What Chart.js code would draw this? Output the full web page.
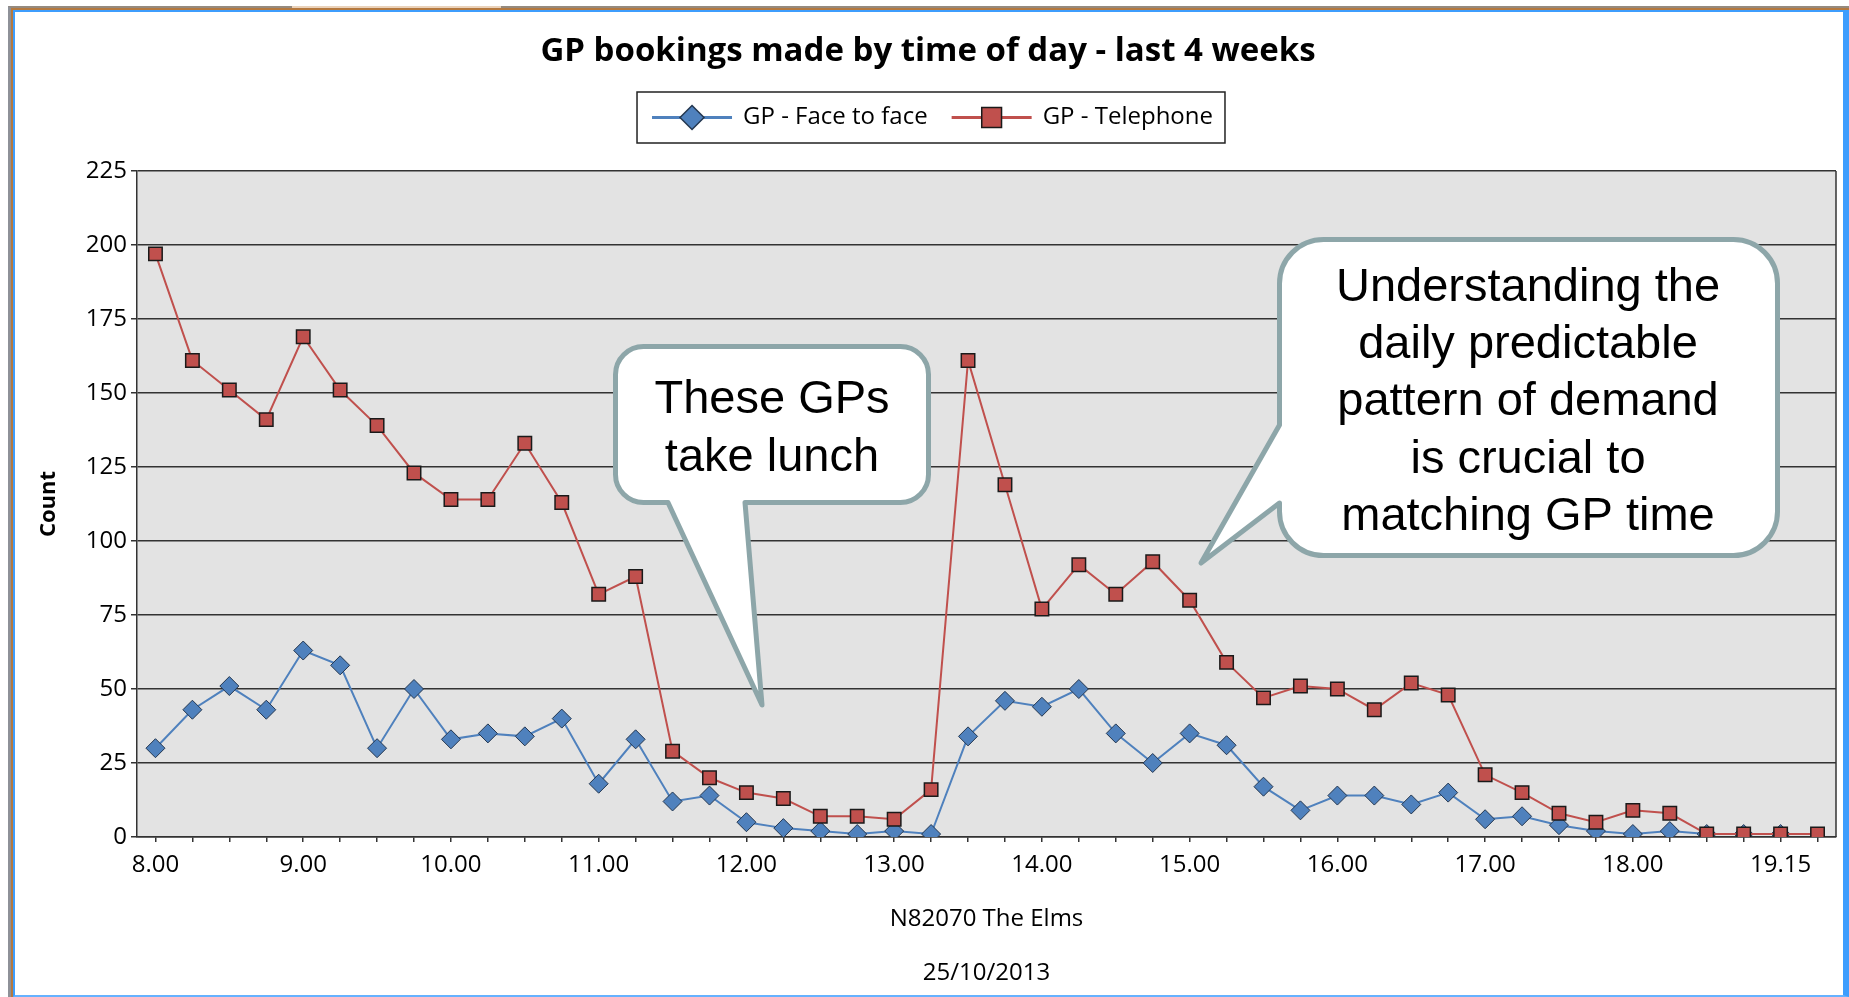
<!DOCTYPE html>
<html>
<head>
<meta charset="utf-8">
<title>GP bookings made by time of day</title>
<script src="https://cdn.jsdelivr.net/npm/chart.js@4.4.1/dist/chart.umd.min.js"></script>
<style>
  html, body { margin: 0; padding: 0; background: #fff; }
  #wrap { position: relative; width: 1849px; height: 997px; overflow: hidden; }
  #dash { position: absolute; left: 0; top: 0; }
  .frame { position: absolute; pointer-events: none; box-sizing: border-box; }
  #f1 { left: 8px; top: 6px; right: 0; bottom: 0; border-left: 3px solid #8e9198; border-top: 2px solid #958a7e; }
  #f2 { left: 11px; top: 8px; right: 0; bottom: 0; border-left: 2px solid #b5793f; border-top: 2px solid #b5793f; }
  #f3 { left: 13px; top: 10px; right: 0; bottom: 0; border: 2px solid #3d9dfd; border-right-width: 6px; border-bottom-color: #66b2ff; }
  #tab { left: 292px; top: 6px; width: 209px; height: 2px; background: #ead2ba; }
</style>
</head>
<body>
<div id="wrap">
  <canvas id="dash" width="1849" height="997"></canvas>
  <div class="frame" id="f1"></div>
  <div class="frame" id="f2"></div>
  <div class="frame" id="f3"></div>
  <div class="frame" id="tab"></div>
</div>
<script>
// time slots (one quarter is missing in the source between 18.45 and 19.15)
const times = ['8.00', '8.15', '8.30', '8.45', '9.00', '9.15', '9.30', '9.45',
  '10.00', '10.15', '10.30', '10.45', '11.00', '11.15', '11.30', '11.45',
  '12.00', '12.15', '12.30', '12.45', '13.00', '13.15', '13.30', '13.45',
  '14.00', '14.15', '14.30', '14.45', '15.00', '15.15', '15.30', '15.45',
  '16.00', '16.15', '16.30', '16.45', '17.00', '17.15', '17.30', '17.45',
  '18.00', '18.15', '18.30', '18.45', '19.15', '19.30'];

const tickLabels = ['8.00', '9.00', '10.00', '11.00', '12.00', '13.00', '14.00',
  '15.00', '16.00', '17.00', '18.00', '19.15'];

const faceToFace = [30, 43, 51, 43, 63, 58, 30, 50, 33, 35, 34, 40, 18, 33, 12, 14,
  5, 3, 2, 1, 2, 1, 34, 46, 44, 50, 35, 25, 35, 31, 17, 9,
  14, 14, 11, 15, 6, 7, 4, 2, 1, 2, 1, 1, 1, null];

const telephone = [197, 161, 151, 141, 169, 151, 139, 123, 114, 114, 133, 113, 82, 88, 29, 20,
  15, 13, 7, 7, 6, 16, 161, 119, 77, 92, 82, 93, 80, 59, 47, 51,
  50, 43, 52, 48, 21, 15, 8, 5, 9, 8, 1, 1, 1, 1];

const seriesNames = ['GP - Face to face', 'GP - Telephone'];

const FONT = "'Open Sans', 'Noto Sans', sans-serif";
const CALLOUT_FONT = "'Liberation Sans', Arial, sans-serif";
const GRID = '#333333';

Chart.defaults.font.family = FONT;
Chart.defaults.color = '#000';

function marker(ctx, style, x, y, r, fill, stroke, lw) {
  ctx.save();
  ctx.beginPath();
  if (style === 'rectRot') {
    ctx.moveTo(x, y - r);
    ctx.lineTo(x + r, y);
    ctx.lineTo(x, y + r);
    ctx.lineTo(x - r, y);
  } else {
    const s = r * Math.SQRT1_2;
    ctx.rect(x - s, y - s, 2 * s, 2 * s);
  }
  ctx.closePath();
  ctx.fillStyle = fill;
  ctx.fill();
  ctx.lineWidth = lw;
  ctx.strokeStyle = stroke;
  ctx.stroke();
  ctx.restore();
}

function bubble(ctx, x, y, w, h, r, ptr) {
  ctx.save();
  ctx.beginPath();
  ctx.moveTo(x + r, y);
  ctx.lineTo(x + w - r, y);
  ctx.arcTo(x + w, y, x + w, y + r, r);
  ctx.lineTo(x + w, y + h - r);
  ctx.arcTo(x + w, y + h, x + w - r, y + h, r);
  if (ptr.side === 'bottom') {
    ctx.lineTo(ptr.b, y + h);
    ctx.lineTo(ptr.tx, ptr.ty);
    ctx.lineTo(ptr.a, y + h);
  }
  ctx.lineTo(x + r, y + h);
  ctx.arcTo(x, y + h, x, y + h - r, r);
  if (ptr.side === 'left') {
    ctx.lineTo(x, ptr.b);
    ctx.lineTo(ptr.tx, ptr.ty);
    ctx.lineTo(x, ptr.a);
  }
  ctx.lineTo(x, y + r);
  ctx.arcTo(x, y, x + r, y, r);
  ctx.closePath();
  ctx.fillStyle = '#ffffff';
  ctx.fill();
  ctx.lineJoin = 'round';
  ctx.lineWidth = 5;
  ctx.strokeStyle = '#8da6a9';
  ctx.stroke();
  ctx.restore();
}

function bubbleText(ctx, lines, cx, firstBase, step) {
  ctx.save();
  ctx.font = '47px ' + CALLOUT_FONT;
  ctx.fillStyle = '#000';
  ctx.textAlign = 'center';
  ctx.textBaseline = 'alphabetic';
  lines.forEach((t, i) => ctx.fillText(t, cx, firstBase + i * step));
  ctx.restore();
}

const plotFrame = {
  id: 'plotFrame',
  beforeDraw(chart) {
    const { ctx, chartArea: a } = chart;
    ctx.save();
    ctx.fillStyle = '#e3e3e3';
    ctx.fillRect(a.left, a.top, a.right - a.left, a.bottom - a.top);
    ctx.restore();
  },
  beforeDatasetsDraw(chart) {
    const { ctx, chartArea: a } = chart;
    ctx.save();
    ctx.strokeStyle = GRID;
    ctx.lineWidth = 1.5;
    ctx.beginPath();
    ctx.moveTo(a.right, a.top);
    ctx.lineTo(a.right, a.bottom);
    ctx.stroke();
    ctx.restore();
  }
};

// legend with line + marker, like the spreadsheet one
const lineLegend = {
  id: 'lineLegend',
  afterDraw(chart) {
    const ctx = chart.ctx;
    const ds = chart.data.datasets;
    ctx.save();
    ctx.font = '24px ' + FONT;
    const padL = 15, padR = 12, lineLen = 80, gap = 11, itemGap = 24;
    const widths = ds.map(d => ctx.measureText(d.label).width);
    let w = padL + padR;
    widths.forEach((tw, i) => { w += lineLen + gap + tw + (i ? itemGap : 0); });
    const h = 51, top = 92, cx = 931;
    const left = cx - w / 2;
    ctx.fillStyle = '#fff';
    ctx.fillRect(left, top, w, h);
    ctx.strokeStyle = '#222';
    ctx.lineWidth = 1.5;
    ctx.strokeRect(left, top, w, h);
    const cy = top + h / 2;
    let x = left + padL;
    ds.forEach((d, i) => {
      if (i) x += itemGap;
      ctx.strokeStyle = d.borderColor;
      ctx.lineWidth = 3;
      ctx.beginPath();
      ctx.moveTo(x, cy);
      ctx.lineTo(x + lineLen, cy);
      ctx.stroke();
      marker(ctx, d.pointStyle, x + lineLen / 2, cy, d.pointStyle === 'rectRot' ? 12 : 14,
        d.backgroundColor, d.pointBorderColor, 1.5);
      x += lineLen + gap;
      ctx.fillStyle = '#000';
      ctx.textAlign = 'left';
      ctx.textBaseline = 'middle';
      ctx.fillText(d.label, x, cy);
      x += widths[i];
    });
    ctx.restore();
  }
};

const callouts = {
  id: 'callouts',
  afterDraw(chart) {
    const ctx = chart.ctx;
    bubble(ctx, 615.5, 346.5, 313, 156, 28, { side: 'bottom', a: 668, b: 745, tx: 762, ty: 705 });
    bubbleText(ctx, ['These GPs', 'take lunch'], 772, 413, 58);
    bubble(ctx, 1279.5, 239.5, 498, 316, 44, { side: 'left', a: 425, b: 503, tx: 1201, ty: 563 });
    bubbleText(ctx, ['Understanding the', 'daily predictable', 'pattern of demand',
      'is crucial to', 'matching GP time'], 1528, 301, 57.2);
  }
};

const ctx = document.getElementById('dash');

new Chart(ctx, {
  type: 'line',
  data: {
    labels: times,
    datasets: [{
      label: seriesNames[0],
      data: faceToFace,
      order: 1,
      borderColor: '#4f81bd',
      backgroundColor: '#4f81bd',
      borderWidth: 2,
      tension: 0,
      pointStyle: 'rectRot',
      pointRadius: 9.5,
      pointBorderColor: '#243750',
      pointBorderWidth: 1,
      spanGaps: false
    }, {
      label: seriesNames[1],
      data: telephone,
      order: 0,
      borderColor: '#c0504d',
      backgroundColor: '#c0504d',
      borderWidth: 2,
      tension: 0,
      pointStyle: 'rect',
      pointRadius: 9.5,
      pointBorderColor: '#1a1a1a',
      pointBorderWidth: 1.5
    }]
  },
  options: {
    responsive: false,
    animation: false,
    layout: { padding: { left: 20, right: 13, top: 0, bottom: 0 } },
    plugins: {
      legend: { display: false },
      tooltip: { enabled: false },
      title: {
        display: true,
        text: 'GP bookings made by time of day - last 4 weeks',
        color: '#000',
        font: { size: 33, weight: 'bold' },
        padding: { top: 32, bottom: 99.4 }
      }
    },
    scales: {
      x: {
        offset: true,
        grid: {
          offset: false,
          drawOnChartArea: false,
          drawTicks: true,
          tickLength: 5,
          color: GRID,
          lineWidth: 1.5
        },
        border: { color: GRID, width: 1.5 },
        ticks: {
          autoSkip: false,
          maxRotation: 0,
          color: '#000',
          font: { size: 24 },
          padding: 9,
          callback: function (value) {
            const l = this.getLabelForValue(value);
            return tickLabels.includes(l) ? l : '';
          }
        },
        title: {
          display: true,
          text: ['N82070 The Elms', '25/10/2013'],
          color: '#000',
          font: { size: 24, lineHeight: 2.25 },
          padding: { top: 0, bottom: -3 }
        },
        afterFit: (s) => { s.height = 160; }
      },
      y: {
        min: 0,
        max: 225,
        ticks: {
          stepSize: 25,
          color: '#000',
          font: { size: 24 },
          padding: 4
        },
        grid: {
          color: GRID,
          lineWidth: 1.5,
          tickLength: 6
        },
        border: { color: GRID, width: 1.5 },
        title: {
          display: true,
          text: 'Count',
          color: '#000',
          font: { size: 22, weight: 'bold' },
          padding: { top: 16, bottom: 0 }
        },
        afterFit: (s) => { s.width = 117; }
      }
    }
  },
  plugins: [plotFrame, lineLegend, callouts]
});
</script>
</body>
</html>
